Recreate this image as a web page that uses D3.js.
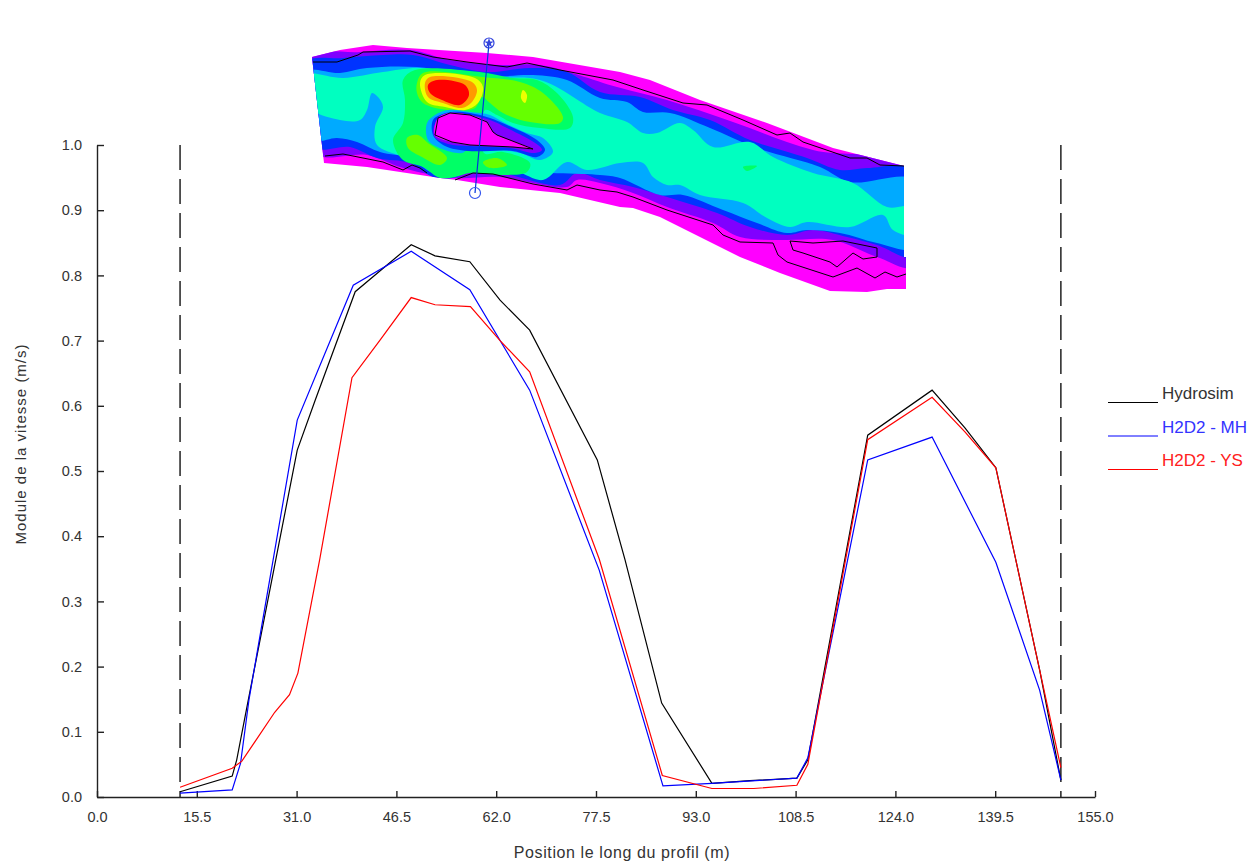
<!DOCTYPE html>
<html>
<head>
<meta charset="utf-8">
<script src="https://cdn.jsdelivr.net/npm/d3@7"></script>
<style>
html, body { margin: 0; padding: 0; background: #fff; }
text { font-family: "Liberation Sans", Arial, sans-serif; fill: #333; }
</style>
</head>
<body>
<svg id="chart" width="1255" height="862"></svg>
<script>
// profile series, position in m and speed in m/s
var hydrosimX = [12.9,21.0,21.7,23.5,31.1,33.9,40.1,48.8,52.5,57.9,62.6,67.2,77.7,82.0,87.7,95.5,101.4,108.7,110.4,119.7,129.7,134.8,139.6,146.4,149.7]
var hydrosimY = [.008,.032,.057,.149,.532,.609,.775,.847,.830,.821,.762,.716,.517,.364,.144,.021,.025,.029,.057,.555,.624,.566,.505,.195,.026]
var mhX = [12.9,21.0,22.3,23.6,31.1,39.8,48.8,57.9,67.2,78.0,87.9,95.5,108.7,110.4,119.7,129.7,139.6,146.4,149.7]
var mhY = [.006,.011,.052,.149,.578,.785,.837,.778,.624,.348,.017,.021,.029,.060,.517,.552,.360,.164,.026]
var ysX = [12.9,21.0,22.5,27.6,29.9,31.2,34.6,39.6,43.9,48.8,52.5,58.0,62.6,67.2,78.0,87.8,95.5,102.0,108.7,110.4,119.7,129.7,134.8,139.6,146.4,149.7]
var ysY = [.015,.044,.055,.130,.157,.190,.365,.643,.700,.766,.755,.752,.700,.652,.365,.033,.013,.013,.018,.050,.548,.613,.560,.505,.195,.045]

var xTicks = [0,15.5,31,46.5,62,77.5,93,108.5,124,139.5,155]
var yTicks = [0,.1,.2,.3,.4,.5,.6,.7,.8,.9,1]
var profileBounds = [12.9,149.7]
var legendNames = ["Hydrosim","H2D2 - MH","H2D2 - YS"]
var seriesColors = ["#000000","#0000ff","#ff0000"]
var legendTextColors = ["#333333","#3333ff","#ff2020"]

// inset map, contour bands in grid units, painted from the outside in
var stripBand = [[312,57],[340,50],[373,45],[407,48],[487,53],[533,57],[620,72],[650,80],[700,100],[767,123],[833,148],[904,166],[904,257],[906,257],[906,289],[887,289],[867,292],[830,291],[780,273],[740,257],[700,237],[660,217],[633,208],[620,207],[560,193],[500,187],[457,180],[440,178],[367,167],[324,163]]
var violetBand = [[304,58],[360,52],[410,50],[450,60],[500,65],[540,65],[617,87],[667,100],[733,122],[813,150],[914,168],[914,267],[877,257],[833,240],[783,240],[740,237],[713,223],[667,207],[633,193],[600,183],[577,180],[567,187],[500,177],[457,178],[423,173],[400,167],[367,155],[314,153]]
var blueBand = [[304,63],[343,58],[383,55],[413,55],[450,65],[487,72],[530,68],[567,72],[600,92],[640,97],[673,110],[710,120],[750,140],[807,158],[840,170],[867,168],[914,170],[914,257],[877,245],[847,237],[813,230],[787,235],[750,227],[717,213],[667,197],[633,187],[600,180],[577,173],[560,185],[500,173],[467,173],[453,178],[433,177],[410,163],[377,158],[350,147],[314,147]]
var skyBand = [[304,72],[340,73],[367,68],[417,67],[480,77],[533,75],[567,80],[600,98],[627,102],[643,112],[670,113],[710,128],[757,148],[820,167],[850,182],[914,180],[914,248],[877,243],[840,233],[807,230],[787,233],[757,223],[723,210],[683,195],[660,195],[620,178],[600,175],[500,172],[473,170],[455,173],[433,173],[410,158],[380,152],[357,142],[337,138],[312,140]]
var aquaBand = [[305,75],[343,78],[383,72],[420,68],[480,78],[540,80],[600,113],[627,122],[643,133],[657,133],[680,123],[693,130],[713,147],[750,142],[773,157],[813,173],[853,183],[887,207],[914,207],[914,235],[893,230],[883,215],[850,227],[807,222],[790,227],[767,218],[743,203],[700,195],[680,185],[667,185],[653,177],[643,163],[620,163],[587,170],[567,162],[543,180],[517,172],[487,172],[460,173],[443,178],[430,170],[403,157],[377,145],[375,127],[383,107],[378,97],[372,93],[367,110],[360,120],[340,120],[309,107]]
var greenBand = [[403,80],[415,70],[480,72],[513,78],[537,80],[557,93],[573,117],[570,128],[540,128],[513,123],[497,115],[485,110],[484,153],[503,152],[530,163],[527,172],[503,175],[470,173],[455,177],[440,178],[423,167],[403,160],[393,140],[403,123],[405,100]]
var greenSpot = [[743,167],[757,166],[747,171]]
var limeHot = [[417,83],[423,73],[482,77],[520,82],[543,93],[563,117],[560,123],[530,122],[503,113],[490,103],[482,97],[475,108],[448,110],[423,103],[417,93]]
var limeLow1 = [[407,138],[418,135],[428,143],[447,158],[440,165],[422,157],[408,148]]
var limeLow2 = [[483,162],[497,158],[507,165],[497,168],[487,167]]
var yellowHot = [[420,83],[425,75],[475,78],[483,87],[478,103],[465,110],[445,107],[427,102]]
var yellowSpot = [[523,90],[527,95],[525,103],[521,98]]
var orangeHot = [[425,83],[430,77],[472,82],[477,90],[472,102],[462,108],[443,103],[428,97]]
var redHot = [[428,85],[437,80],[465,85],[469,95],[460,105],[442,100],[430,93]]
var islandSky = [[427,123],[435,115],[448,110],[470,112],[490,115],[503,122],[527,133],[543,138],[553,152],[540,160],[520,153],[470,148],[462,153],[442,149],[428,140]]
var islandBlue = [[433,120],[440,115],[452,112],[470,113],[490,118],[507,125],[537,140],[545,150],[537,157],[513,151],[468,151],[445,146],[433,135]]
var islandViolet = [[438,118],[450,113],[470,115],[490,120],[507,128],[538,145],[542,150],[535,153],[510,148],[470,146],[448,144],[434,136]]
var islandMagenta = [[438,118],[450,113],[470,115],[487,122],[493,132],[497,135],[533,149],[513,147],[470,145],[452,142],[435,135]]

var contourTop = [[313,62],[337,62],[358,55],[363,52],[410,51],[433,57],[467,62],[507,67],[527,63],[560,70],[613,80],[643,90],[683,103],[707,105],[743,120],[777,135],[790,133],[803,142],[850,158],[867,158],[880,165],[904,166]]
var contourLowLeft = [[325,156],[343,154],[363,158],[383,162],[403,170],[412,165],[420,168],[427,173]]
var contourLowRight = [[455,180],[473,173],[493,174],[533,184],[567,190],[577,185],[600,190],[617,192],[633,197],[667,210],[713,225],[723,235],[740,242],[773,243],[778,255],[787,262],[833,277],[857,268],[875,278],[885,272],[897,277],[906,274]]
var contourInner = [[790,241],[813,243],[843,241],[877,248],[877,257],[863,259],[853,253],[837,267],[830,262],[803,253],[793,250],[790,241]]
var contourIsland = [[438,118],[450,113],[470,115],[487,122],[493,132],[497,135],[533,149],[513,147],[470,145],[452,142],[435,135],[438,118]]
var transect = [[489,43],[475,193]]

var svg = d3.select("#chart")

var x = d3.scaleLinear().domain([0,155]).range([97,1095])
var y = d3.scaleLinear().domain([0,1]).range([797,145])

// grid units of the map happen to be 1:1 with the page here
var mapX = d3.scaleLinear().domain([300,920]).range([300,920])
var mapY = d3.scaleLinear().domain([40,300]).range([40,300])

var mapLine = d3.line()
    .x(function(d) { return mapX(d[0]); })
    .y(function(d) { return mapY(d[1]); })
var bandLine = d3.line()
    .x(function(d) { return mapX(d[0]); })
    .y(function(d) { return mapY(d[1]); })
    .curve(d3.curveCatmullRomClosed.alpha(0.5))

svg.append("clipPath").attr("id", "stripClip")
    .append("path").attr("d", mapLine(stripBand) + "Z")

function drawBand(g, pts, color){
    g.append("path")
	.attr("d", bandLine(pts))
	.attr("fill", color)
}

function drawContour(g, pts){
    g.append("path")
	.attr("d", mapLine(pts))
	.attr("fill", "none")
	.attr("stroke", "#000")
	.attr("stroke-width", 1)
}

var mapGroup = svg.append("g").attr("id", "map")
mapGroup.append("path").attr("d", mapLine(stripBand) + "Z").attr("fill", "#ff00ff")
var bandGroup = mapGroup.append("g").attr("clip-path", "url(#stripClip)")
drawBand(bandGroup, violetBand, "#8000ff")
drawBand(bandGroup, blueBand, "#0033ff")
drawBand(bandGroup, skyBand, "#00aaff")
drawBand(bandGroup, aquaBand, "#00ffc0")
drawBand(bandGroup, greenBand, "#00ff66")
drawBand(bandGroup, greenSpot, "#00ff66")
drawBand(bandGroup, limeHot, "#66ff00")
drawBand(bandGroup, limeLow1, "#66ff00")
drawBand(bandGroup, limeLow2, "#66ff00")
drawBand(bandGroup, yellowHot, "#eeff00")
drawBand(bandGroup, yellowSpot, "#eeff00")
drawBand(bandGroup, orangeHot, "#ff9900")
drawBand(bandGroup, redHot, "#ff0000")
drawBand(bandGroup, islandSky, "#00aaff")
drawBand(bandGroup, islandBlue, "#0033ff")
drawBand(bandGroup, islandViolet, "#8000ff")
drawBand(bandGroup, islandMagenta, "#ff00ff")
drawContour(mapGroup, contourTop)
drawContour(mapGroup, contourLowLeft)
drawContour(mapGroup, contourLowRight)
drawContour(mapGroup, contourInner)
drawContour(mapGroup, contourIsland)

mapGroup.append("path")
    .attr("d", mapLine(transect))
    .attr("fill", "none")
    .attr("stroke", "#0033dd")
    .attr("stroke-width", 1.2)
mapGroup.append("circle")
    .attr("cx", mapX(transect[0][0])).attr("cy", mapY(transect[0][1])).attr("r", 5)
    .attr("fill", "none").attr("stroke", "#3344dd").attr("stroke-width", 1.2)
mapGroup.append("path")
    .attr("transform", "translate(" + mapX(transect[0][0]) + "," + mapY(transect[0][1]) + ")")
    .attr("d", d3.symbol(d3.symbolStar, 30)())
    .attr("fill", "#3344dd")
mapGroup.append("circle")
    .attr("cx", mapX(transect[1][0])).attr("cy", mapY(transect[1][1])).attr("r", 5.5)
    .attr("fill", "none").attr("stroke", "#3355ee").attr("stroke-width", 1.2)

// axes, ticks point inward
var xAxis = d3.axisBottom(x)
    .tickValues(xTicks)
    .tickFormat(d3.format(".1f"))
    .tickSizeInner(-6)
    .tickSizeOuter(0)
    .tickPadding(15)
var yAxis = d3.axisLeft(y)
    .tickValues(yTicks)
    .tickFormat(d3.format(".1f"))
    .tickSizeInner(-7)
    .tickSizeOuter(0)
    .tickPadding(15)

var xG = svg.append("g").attr("transform", "translate(0,797)").call(xAxis)
var yG = svg.append("g").attr("transform", "translate(97,0)").call(yAxis)
svg.selectAll(".domain, .tick line").attr("stroke", "#222").attr("stroke-width", 1.4)
svg.selectAll(".tick text").attr("font-size", 14.5).style("font-family", '"Liberation Sans", Arial, sans-serif').attr("fill", "#333")

svg.append("text")
    .attr("x", 622).attr("y", 858)
    .attr("text-anchor", "middle")
    .attr("font-size", 16)
    .attr("letter-spacing", 0.6)
    .text("Position le long du profil (m)")
svg.append("text")
    .attr("transform", "translate(26,444) rotate(-90)")
    .attr("text-anchor", "middle")
    .attr("font-size", 15)
    .attr("letter-spacing", 1)
    .text("Module de la vitesse (m/s)")

// dashed limits of the profile
profileBounds.map(function(d){
    svg.append("line")
	.attr("x1", x(d)).attr("x2", x(d))
	.attr("y1", y(1)).attr("y2", y(0))
	.attr("stroke", "#222")
	.attr("stroke-width", 1.5)
	.attr("stroke-dasharray", "25,9")
})

var lineFunction = d3.line()
    .x(function(d) { return x(d[0]); })
    .y(function(d) { return y(d[1]); })

var allX = [hydrosimX, mhX, ysX]
var allY = [hydrosimY, mhY, ysY]
d3.range(3).map(function(i){
    svg.append("path")
	.attr("d", lineFunction(d3.zip(allX[i], allY[i])))
	.attr("fill", "none")
	.attr("stroke", seriesColors[i])
	.attr("stroke-width", 1.2)
})

// legend
var legendY = d3.scalePoint().domain(legendNames).range([402.5,469.5])
legendNames.map(function(name, i){
    svg.append("line")
	.attr("x1", 1108).attr("x2", 1158)
	.attr("y1", legendY(name)).attr("y2", legendY(name))
	.attr("stroke", seriesColors[i])
	.attr("stroke-width", 1)
    svg.append("text")
	.attr("x", 1162).attr("y", legendY(name) - 3.5)
	.attr("font-size", 17)
	.style("fill", legendTextColors[i])
	.text(name)
})
</script>
</body>
</html>
